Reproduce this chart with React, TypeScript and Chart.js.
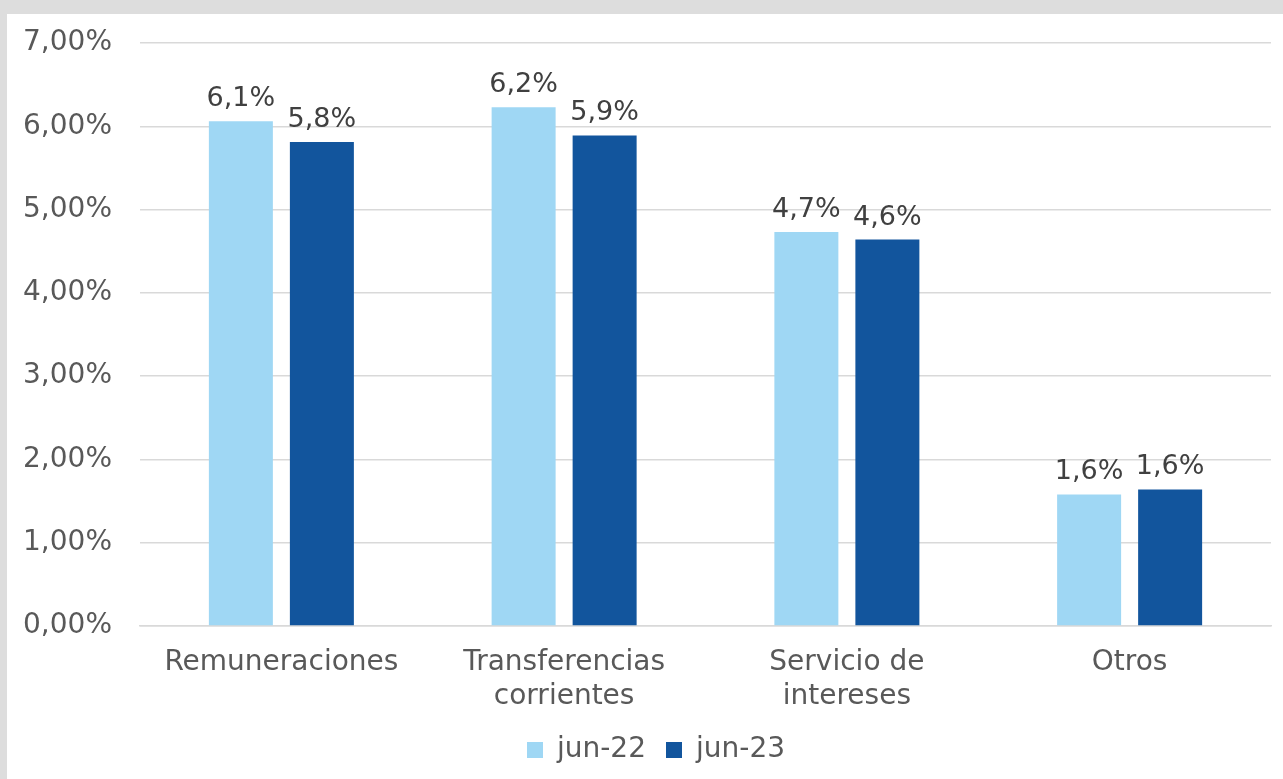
import React, { useEffect, useRef } from "react";
import { Chart, registerables } from "chart.js";

Chart.register(...registerables);

const categories: string[][] = [
  ["Remuneraciones"],
  ["Transferencias", "corrientes"],
  ["Servicio de", "intereses"],
  ["Otros"],
];
const seriesNames = ["jun-22", "jun-23"];
const jun22 = [6.06, 6.23, 4.73, 1.58];
const jun23 = [5.81, 5.89, 4.64, 1.64];
const dataLabels22 = ["6,1%", "6,2%", "4,7%", "1,6%"];
const dataLabels23 = ["5,8%", "5,9%", "4,6%", "1,6%"];
const yMin = 0;
const yMax = 7;
const yStep = 1;

const FONT = "'DejaVu Sans', sans-serif";
const TEXT = "#595959";
const LABEL = "#404040";

const valueLabelPlugin = {
  id: "valueLabels",
  afterDatasetsDraw(chart: any) {
    const ctx = chart.ctx;
    const labelSets = [dataLabels22, dataLabels23];
    ctx.save();
    ctx.font = `27px ${FONT}`;
    ctx.fillStyle = LABEL;
    ctx.textAlign = "center";
    ctx.textBaseline = "alphabetic";
    chart.data.datasets.forEach((_ds: any, di: number) => {
      const meta = chart.getDatasetMeta(di);
      meta.data.forEach((el: any, i: number) => {
        ctx.fillText(labelSets[di][i], el.x, el.y - 15);
      });
    });
    ctx.restore();
  },
};

const legendShiftPlugin = {
  id: "legendShift",
  afterLayout(chart: any) {
    if (chart.legend) chart.legend.left += 34;
  },
};

export default function App() {
  const ref = useRef<HTMLCanvasElement | null>(null);
  useEffect(() => {
    document.body.style.margin = "0";
    if (!ref.current) return;
    const chart = new Chart(ref.current, {
      type: "bar",
      data: {
        labels: categories,
        datasets: [
          {
            label: seriesNames[0],
            data: jun22,
            backgroundColor: "#9fd7f4",
            categoryPercentage: 0.573,
            barPercentage: 0.79,
          },
          {
            label: seriesNames[1],
            data: jun23,
            backgroundColor: "#12559d",
            categoryPercentage: 0.573,
            barPercentage: 0.79,
          },
        ],
      },
      options: {
        animation: false,
        responsive: true,
        maintainAspectRatio: false,
        layout: { padding: { top: 29, right: 12, bottom: 5, left: 0 } },
        plugins: {
          tooltip: { enabled: false },
          legend: {
            position: "bottom",
            labels: {
              boxWidth: 16,
              boxHeight: 16,
              padding: 20,
              color: TEXT,
              font: { family: FONT, size: 28 },
            },
          },
        },
        scales: {
          x: {
            grid: { display: false, drawTicks: false },
            border: { color: "#d9d9d9", width: 1.5 },
            ticks: {
              color: TEXT,
              padding: 20,
              font: { family: FONT, size: 28, lineHeight: 1.2 },
              maxRotation: 0,
              autoSkip: false,
            },
            afterFit(scale: any) {
              scale.height = 90;
            },
          },
          y: {
            min: yMin,
            max: yMax,
            grid: { color: "#d9d9d9", lineWidth: 1.5, drawTicks: false },
            border: { display: false },
            ticks: {
              stepSize: yStep,
              color: TEXT,
              padding: 28,
              font: { family: FONT, size: 28 },
              callback: (v: any) => Number(v).toFixed(2).replace(".", ",") + "%",
            },
            afterFit(scale: any) {
              scale.width = 133;
              scale.paddingTop = 0;
              scale.paddingBottom = 0;
            },
          },
        },
      },
      plugins: [valueLabelPlugin, legendShiftPlugin],
    });
    return () => chart.destroy();
  }, []);

  return (
    <div style={{ position: "absolute", left: 0, top: 0, width: 1283, height: 779, background: "#dddddd", overflow: "hidden" }}>
      <div style={{ position: "absolute", left: 7, top: 14, width: 1276, height: 765, background: "#ffffff" }}>
        <canvas ref={ref} />
      </div>
    </div>
  );
}
